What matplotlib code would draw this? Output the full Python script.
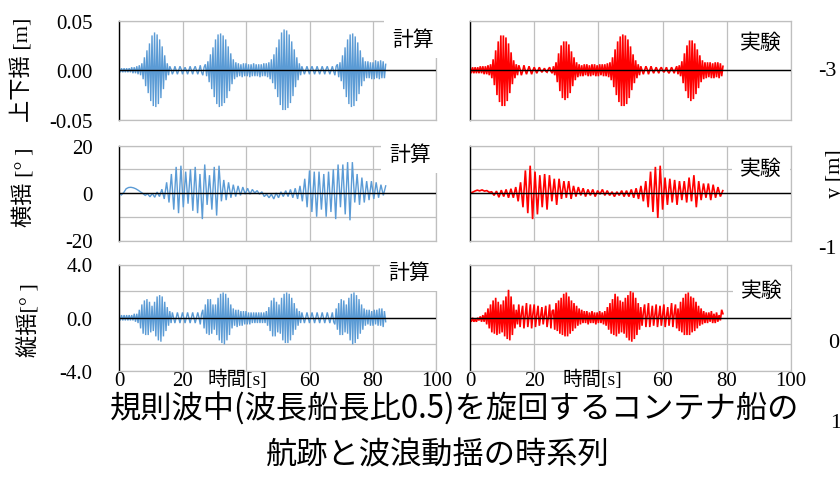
import numpy as np
import matplotlib
matplotlib.use("Agg")
import matplotlib.pyplot as plt

SERIF = "Liberation Serif"
JP = "Noto Sans CJK JP"
plt.rcParams["font.family"] = [SERIF, JP]

# ---------------------------------------------------------------- data
# Successive extreme values of each record, sampled at a fixed interval.
DT_FAST = 0.4    # s, heave / pitch records
DT_ROLL = 0.75   # s, roll records

heave_calc = [  # [m]
    0.001, -0.002, 0.002, -0.002, 0.002, -0.002, 0.002, -0.002, 0.002, -0.002,
    0.003, -0.003, 0.003, -0.003, 0.004, -0.004, 0.005, -0.005, 0.007, -0.009,
    0.013, -0.016, 0.020, -0.023, 0.027, -0.031, 0.035, -0.036, 0.038, -0.037,
    0.036, -0.034, 0.031, -0.028, 0.024, -0.019, 0.015, -0.010, 0.007, -0.005,
    0.004, 0.001, -0.004, -0.001, 0.004, 0.000, -0.004, 0.000, 0.004, 0.001,
    -0.004, 0.000, 0.003, 0.000, -0.004, 0.000, 0.004, 0.000, -0.004, 0.001,
    0.004, 0.000, -0.004, 0.000, 0.005, -0.002, -0.005, 0.003, 0.006, -0.006,
    0.009, -0.012, 0.016, -0.019, 0.023, -0.027, 0.031, -0.034, 0.036, -0.037,
    0.037, -0.036, 0.035, -0.033, 0.031, -0.028, 0.024, -0.021, 0.017, -0.014,
    0.011, -0.009, 0.008, -0.007, 0.007, -0.006, 0.006, -0.007, 0.007, -0.006,
    0.007, -0.006, 0.006, -0.007, 0.006, -0.006, 0.007, -0.006, 0.006, -0.006,
    0.006, -0.007, 0.006, -0.006, 0.007, -0.006, 0.007, -0.007, 0.008, -0.009,
    0.011, -0.013, 0.016, -0.019, 0.023, -0.027, 0.031, -0.035, 0.038, -0.040,
    0.041, -0.040, 0.040, -0.038, 0.036, -0.033, 0.029, -0.026, 0.021, -0.017,
    0.013, -0.010, 0.007, -0.005, 0.004, 0.000, -0.004, 0.000, 0.004, 0.000,
    -0.004, 0.001, 0.004, 0.000, -0.004, 0.000, 0.004, 0.000, -0.004, 0.000,
    0.004, 0.000, -0.004, 0.001, 0.004, 0.000, -0.004, 0.000, 0.004, -0.001,
    -0.005, 0.004, 0.006, -0.007, 0.008, -0.011, 0.015, -0.019, 0.023, -0.027,
    0.031, -0.034, 0.036, -0.037, 0.037, -0.036, 0.034, -0.031, 0.028, -0.024,
    0.020, -0.016, 0.013, -0.011, 0.009, -0.008, 0.009, -0.008, 0.008, -0.009,
    0.008, -0.009, 0.010, -0.008, 0.009, -0.009, 0.010, -0.008, 0.009, -0.008,
    0.006,
]

heave_exp = [  # [m]
    0.003, -0.003, 0.003, -0.003, 0.003, -0.003, 0.003, -0.003, 0.004, -0.003,
    0.004, -0.004, 0.004, -0.004, 0.005, -0.005, 0.006, -0.008, 0.011, -0.015,
    0.020, -0.025, 0.029, -0.032, 0.035, -0.036, 0.035, -0.036, 0.033, -0.031,
    0.027, -0.023, 0.018, -0.014, 0.010, -0.008, 0.006, -0.005, 0.005, 0.001,
    -0.005, -0.001, 0.005, 0.000, -0.004, 0.000, 0.004, 0.000, -0.004, 0.000,
    0.003, 0.000, -0.003, 0.000, 0.003, 0.000, -0.002, 0.000, 0.002, -0.001,
    -0.002, 0.001, 0.003, -0.001, -0.003, 0.004, -0.005, 0.008, -0.012, 0.017,
    -0.021, 0.025, -0.028, 0.029, -0.030, 0.029, -0.028, 0.026, -0.023, 0.019,
    -0.016, 0.013, -0.010, 0.008, -0.007, 0.006, -0.006, 0.005, -0.006, 0.006,
    -0.005, 0.006, -0.006, 0.005, -0.006, 0.006, -0.005, 0.006, -0.006, 0.005,
    -0.006, 0.006, -0.005, 0.006, -0.006, 0.006, -0.006, 0.007, -0.007, 0.008,
    -0.010, 0.013, -0.017, 0.021, -0.025, 0.029, -0.032, 0.034, -0.036, 0.036,
    -0.036, 0.035, -0.034, 0.031, -0.028, 0.024, -0.020, 0.016, -0.013, 0.010,
    -0.008, 0.006, -0.005, 0.004, 0.000, -0.004, 0.000, 0.004, 0.001, -0.004,
    0.000, 0.004, 0.000, -0.003, 0.000, 0.003, 0.000, -0.003, 0.001, 0.003,
    0.000, -0.002, 0.000, 0.003, -0.001, -0.003, 0.000, 0.003, 0.000, -0.003,
    0.001, 0.004, -0.004, 0.005, -0.006, 0.009, -0.013, 0.017, -0.021, 0.025,
    -0.028, 0.030, -0.031, 0.030, -0.029, 0.027, -0.024, 0.021, -0.018, 0.015,
    -0.012, 0.010, -0.009, 0.008, -0.008, 0.008, -0.007, 0.008, -0.008, 0.007,
    -0.008, 0.008, -0.007, 0.008, -0.008, 0.007, -0.006, 0.004,
]

roll_calc = [  # [deg]
    0.0, -0.8, 0.2, 1.8, 2.3, 2.4, 2.2, 1.8, 1.2, 0.5,
    -0.2, -1.0, -0.3, -1.6, -0.2, -1.8, 0.4, -1.5, 1.6, -2.5,
    4.5, -4.0, 8.0, -7.0, 11.0, -8.5, 11.5, -6.0, 9.0, -4.5,
    10.0, -7.5, 11.0, -8.5, 8.0, -11.0, 12.0, -5.0, 7.5, -7.0,
    11.0, -9.5, 11.5, -3.5, 5.5, -3.0, 4.5, -2.0, 3.5, -1.5,
    3.0, -1.0, 2.5, -0.5, 2.0, -0.5, 1.5, 0.0, 1.0, -0.5,
    0.5, -1.5, -0.5, -2.0, -0.5, -2.5, 0.0, -2.0, 0.5, -1.5,
    1.0, -1.5, 1.5, -2.0, 2.0, -2.5, 3.0, -3.5, 6.0, -6.0,
    9.5, -8.0, 9.0, -10.0, 9.0, -7.0, 8.0, -10.0, 9.0, -8.0,
    10.0, -11.0, 12.0, -6.0, 12.0, -9.0, 13.0, -11.5, 13.0, -4.0,
    8.0, -5.0, 6.5, -4.0, 5.0, -3.0, 5.0, -2.5, 4.5, -2.0,
    3.5, -1.0, 3.0,
]

roll_exp = [  # [deg]
    0.0, 0.3, 0.8, 1.2, 0.9, 1.3, 0.8, 1.0, 0.3, 0.5,
    -1.0, 0.8, -1.8, 1.2, -1.5, 1.5, -2.0, 1.8, -2.0, 2.5,
    -3.5, 4.5, -6.0, 9.5, -8.5, 11.5, -11.0, 9.0, -9.0, 7.5,
    -6.0, 8.0, -7.0, 7.5, -3.5, 6.0, -5.0, 6.0, -2.5, 5.0,
    -2.0, 5.0, -2.5, 3.0, -1.5, 2.5, -1.0, 2.0, -1.5, 1.5,
    -1.0, 1.5, -1.5, 1.0, -0.5, 1.5, -1.0, 1.0, -1.0, 0.5,
    -1.5, 0.5, -1.0, 1.0, -1.5, 1.0, -1.5, 1.5, -2.0, 2.0,
    -2.5, 3.0, -3.5, 5.0, -6.0, 9.0, -8.0, 11.0, -10.5, 11.5,
    -7.0, 6.5, -5.0, 6.0, -4.0, 5.5, -5.0, 5.0, -3.0, 5.0,
    -4.0, 6.5, -3.5, 7.5, -6.0, 5.0, -3.0, 4.0, -2.0, 4.0,
    -3.0, 3.5, -2.0, 2.5, -1.5, 1.0,
]

pitch_calc = [  # [deg]
    0.1, -0.2, 0.2, -0.2, 0.2, -0.2, 0.2, -0.2, 0.2, -0.2,
    0.2, -0.2, 0.3, -0.3, 0.3, -0.4, 0.6, -0.8, 1.0, -1.2,
    1.3, -1.3, 1.4, -1.3, 1.2, -1.1, 0.9, -1.0, 1.2, -1.4,
    1.6, -1.7, 1.7, -1.8, 1.6, -1.4, 1.2, -1.0, 0.8, -0.6,
    0.5, -0.4, 0.4, 0.0, -0.4, 0.0, 0.4, 0.0, -0.4, 0.0,
    0.4, 0.0, -0.4, 0.0, 0.4, 0.0, -0.4, 0.0, 0.4, 0.0,
    -0.4, 0.0, 0.4, 0.0, -0.5, 0.3, 0.6, -0.8, 1.0, -1.2,
    1.4, -1.3, 1.4, -1.2, 1.0, -0.9, 1.0, -1.3, 1.5, -1.7,
    1.8, -1.9, 1.9, -2.0, 1.8, -1.7, 1.5, -1.3, 1.0, -0.8,
    0.7, -0.6, 0.6, -0.7, 0.6, -0.6, 0.5, -0.6, 0.5, -0.5,
    0.5, -0.5, 0.4, -0.5, 0.4, -0.4, 0.4, -0.4, 0.4, -0.4,
    0.4, -0.4, 0.4, -0.4, 0.4, -0.4, 0.5, -0.6, 0.8, -1.0,
    1.3, -1.4, 1.5, -1.4, 1.2, -1.1, 1.0, -1.2, 1.5, -1.7,
    1.8, -1.9, 1.9, -1.9, 1.8, -1.7, 1.5, -1.3, 1.1, -0.9,
    0.7, -0.6, 0.5, -0.4, 0.4, 0.0, -0.4, 0.0, 0.4, 0.0,
    -0.4, 0.0, 0.4, 0.0, -0.4, 0.0, 0.4, 0.0, -0.4, 0.0,
    0.4, 0.0, -0.4, 0.0, 0.4, 0.0, -0.4, 0.0, 0.4, -0.3,
    -0.5, 0.7, -0.9, 1.1, -1.3, 1.4, -1.3, 1.3, -1.1, 1.0,
    -1.2, 1.5, -1.7, 1.8, -2.0, 1.9, -1.9, 1.7, -1.6, 1.4,
    -1.2, 1.0, -0.9, 0.7, -0.6, 0.6, -0.5, 0.6, -0.6, 0.5,
    -0.6, 0.6, -0.5, 0.6, -0.6, 0.7, -0.6, 0.7, -0.7, 0.5,
    -0.3,
]

pitch_exp = [  # [deg]
    -0.1, -0.3, 0.0, -0.3, -0.1, -0.3, 0.0, -0.2, 0.1, -0.3,
    0.2, -0.3, 0.4, -0.5, 0.7, -0.8, 1.0, -1.1, 1.3, -1.2,
    1.5, -1.3, 1.2, -1.2, 1.0, -1.1, 1.3, -1.4, 1.6, -1.6,
    2.1, -1.7, 1.6, -1.3, 1.0, -0.8, 0.6, -0.5, 1.0, -0.7,
    0.3, 0.9, -0.8, 0.2, 1.1, -0.7, 0.1, 1.0, -0.8, 0.3,
    1.0, -0.7, 0.2, 0.9, -0.6, 0.1, 0.8, -0.5, 0.2, 0.9,
    -0.7, 0.0, 1.0, -0.8, 0.5, 0.6, -0.9, 1.1, -1.0, 1.3,
    -1.2, 1.5, -1.3, 1.8, -1.4, 1.9, -1.4, 1.6, -1.2, 1.3,
    -1.0, 1.1, -0.8, 0.9, -0.6, 0.7, -0.5, 0.6, -0.4, 0.5,
    -0.4, 0.5, -0.5, 0.4, -0.4, 0.5, -0.4, 0.4, -0.5, 0.4,
    -0.4, 0.5, -0.4, 0.4, -0.5, 0.5, -0.6, 0.8, -0.9, 1.1,
    -1.2, 1.4, -1.3, 1.8, -1.4, 1.6, -1.2, 1.3, -1.1, 1.2,
    -1.2, 1.5, -1.5, 1.7, -1.7, 2.0, -1.8, 1.9, -1.6, 1.5,
    -1.3, 1.1, -0.9, 0.8, -0.6, 0.4, 1.0, -0.7, 0.2, 1.1,
    -0.7, 0.1, 0.9, -0.6, 0.2, 1.0, -0.7, 0.1, 0.9, -0.6,
    0.2, 1.0, -0.7, 0.1, 0.8, -0.6, 0.2, 1.1, -0.7, 0.3,
    1.0, -0.8, 0.7, -1.0, 1.2, -1.1, 1.5, -1.3, 1.8, -1.3,
    1.9, -1.3, 1.6, -1.1, 1.5, -1.0, 1.2, -0.8, 0.9, -0.6,
    0.7, -0.5, 0.5, -0.4, 0.4, -0.4, 0.4, -0.3, 0.5, -0.4,
    0.3, -0.4, 0.4, -0.3, 0.2, -0.2, 0.6, 0.3,
]

x_ticks = [0, 20, 40, 60, 80, 100]
x_tick_labels = ["0", "20", "", "60", "80", "100"]

rows = [
    dict(calc=heave_calc, exp=heave_exp, dt=DT_FAST, ylim=(-0.05, 0.05),
         yticks=[-0.05, 0.0, 0.05], ylabels=["-0.05", "0.00", "0.05"],
         title="上下揺 [m]"),
    dict(calc=roll_calc, exp=roll_exp, dt=DT_ROLL, ylim=(-20, 20),
         yticks=[-20, -10, 0, 10, 20], ylabels=["-20", "", "0", "", "20"],
         title="横揺 [° ]"),
    dict(calc=pitch_calc, exp=pitch_exp, dt=DT_FAST, ylim=(-4.0, 4.0),
         yticks=[-4.0, -2.0, 0.0, 2.0, 4.0],
         ylabels=["-4.0", "", "0.0", "", "4.0"], title="縦揺[° ]"),
]

# ---------------------------------------------------------------- layout
W, H = 840, 485
fig = plt.figure(figsize=(W / 100, H / 100), dpi=100)
fig.patch.set_facecolor("white")

col_px = [(119, 436.5), (470, 791)]
row_px = [(21.5, 121), (146.5, 241.5), (265.5, 372)]
ylabel_px = [(22, 70), (24, 187), (29, 320)]
tag_px = [((413, 40), (761, 43)), ((410, 155), (761, 169)),
          ((409, 273), (762, 291))]

GRID = "#BFBFBF"
BLUE = "#5B9BD5"
RED = "#FF0000"


def fx(x):
    return x / W


def fy(y):
    return 1 - y / H


for r, cfg in enumerate(rows):
    top, bot = row_px[r]
    for c in range(2):
        left, right = col_px[c]
        ax = fig.add_axes([fx(left), fy(bot), (right - left) / W, (bot - top) / H])
        vals = cfg["calc"] if c == 0 else cfg["exp"]
        t = np.arange(len(vals)) * cfg["dt"]
        ax.plot(t, vals, color=BLUE if c == 0 else RED,
                lw=1.0 if c == 0 else 1.2, zorder=2, solid_joinstyle="miter")
        ax.axhline(0, color="black", lw=1.0, zorder=3)
        ax.set_xlim(0, 100)
        ax.set_ylim(*cfg["ylim"])
        ax.set_xticks(x_ticks)
        ax.set_yticks(cfg["yticks"])
        ax.grid(True, color=GRID, lw=0.9)
        ax.set_axisbelow(True)
        for side in ("top", "right", "bottom"):
            ax.spines[side].set_color(GRID)
            ax.spines[side].set_linewidth(0.9)
        ax.spines["left"].set_color("black")
        ax.spines["left"].set_linewidth(1.0)
        ax.tick_params(length=0)
        if c == 0:
            ax.set_yticklabels(cfg["ylabels"], fontsize=15, family=SERIF)
            ax.tick_params(axis="y", pad=19)
        else:
            ax.tick_params(labelleft=False)
        if r == 2:
            ax.set_xticklabels(x_tick_labels, fontsize=15, family=SERIF)
            ax.tick_params(axis="x", pad=0)
        else:
            ax.tick_params(labelbottom=False)

        tx, ty = tag_px[r][c]
        fig.text(fx(tx), fy(ty), "計算" if c == 0 else "実験", fontsize=15,
                 family=JP, ha="center", va="center", zorder=10,
                 bbox=dict(fc="white", ec="none", pad=6))

    lx, ly = ylabel_px[r]
    fig.text(fx(lx), fy(ly), cfg["title"], rotation=90, fontsize=16,
             ha="center", va="center", family=[SERIF, JP])

# x-axis titles sitting among the tick labels
for xc in (237, 592):
    fig.text(fx(xc), fy(379), "時間[s]", fontsize=14, ha="center",
             va="center", family=[SERIF, JP])

# two-line caption
fig.text(fx(455), fy(409), "規則波中(波長船長比0.5)を旋回するコンテナ船の",
         fontsize=22.5, ha="center", va="center", family=JP)
fig.text(fx(438), fy(455), "航跡と波浪動揺の時系列",
         fontsize=22.5, ha="center", va="center", family=JP)

# edge of the neighbouring trajectory chart
for txt, xx, yy in (("-3", 818, 71), ("-1", 818, 250), ("0", 828, 343),
                    ("1", 830, 424)):
    fig.text(fx(xx), fy(yy), txt, fontsize=16, ha="left", va="center",
             family=SERIF)
fig.text(fx(826), fy(174), "y [m]", rotation=90, fontsize=16, ha="left",
         va="center", family=[SERIF, JP])

fig.savefig("out.png", dpi=100)
